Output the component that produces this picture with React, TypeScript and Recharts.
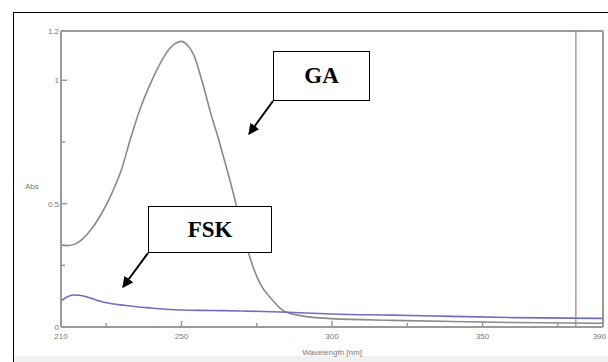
import { LineChart, Line, XAxis, YAxis, ReferenceLine } from 'recharts'

// UV spectra, absorbance vs wavelength (nm)
const gaWavelengths = [
  210, 212, 215, 217, 220, 223, 227, 230, 233, 236, 240, 243, 246, 248, 250,
  252, 254, 257, 260, 262, 264, 266, 268, 270, 271, 273, 276, 280, 284, 290,
  300, 320, 340, 360, 390,
]
const gaAbs = [
  0.333, 0.33, 0.338, 0.355, 0.395, 0.45, 0.545, 0.635, 0.76, 0.875, 0.995,
  1.07, 1.128, 1.15, 1.158, 1.142, 1.105, 0.99, 0.855, 0.775, 0.688, 0.6,
  0.504, 0.405, 0.36, 0.272, 0.179, 0.112, 0.065, 0.045, 0.034, 0.027, 0.022,
  0.018, 0.015,
]

const fskWavelengths = [
  210, 212, 214, 216, 220, 223, 227, 231, 235, 240, 245, 250, 260, 270, 283,
  300, 320, 340, 360, 390,
]
const fskAbs = [
  0.106, 0.122, 0.13, 0.129, 0.117, 0.104, 0.094, 0.088, 0.082, 0.077, 0.072,
  0.069, 0.067, 0.065, 0.061, 0.053, 0.048, 0.043, 0.038, 0.035,
]

const xTicks = [210, 225, 250, 275, 300, 325, 350, 375, 390]
const xLabels = [210, 250, 300, 350, 390]
const yTicks = [0, 0.25, 0.5, 0.75, 1, 1.2]
const yLabels = [0, 0.5, 1, 1.2]
const markerWavelength = 381

const gaData = gaWavelengths.map((wl, i) => ({ wl, abs: gaAbs[i] }))
const fskData = fskWavelengths.map((wl, i) => ({ wl, abs: fskAbs[i] }))

const AXIS = '#9a9a9a'
const TICK_FONT = {
  fontFamily: '"Liberation Sans Narrow", "Liberation Sans", Arial, sans-serif',
  fontSize: 8,
  fill: '#777',
}

function XTick(props: any) {
  const { x, y, payload } = props
  const major = xLabels.includes(payload.value)
  const last = payload.value === 390
  return (
    <g>
      <line x1={x} x2={x} y1={y} y2={y - (major ? 6 : 4)} stroke={AXIS} strokeWidth={1.5} />
      {major && (
        <text x={last ? x + 3 : x} y={y + 12} textAnchor={last ? 'end' : 'middle'} {...TICK_FONT}>
          {payload.value}
        </text>
      )}
    </g>
  )
}

function YTick(props: any) {
  const { x, y, payload } = props
  const major = yLabels.includes(payload.value)
  return (
    <g>
      <line x1={x} x2={x + (major ? 6 : 4)} y1={y} y2={y} stroke={AXIS} strokeWidth={1.5} />
      {major && (
        <text x={x - 2} y={y + 3} textAnchor="end" {...TICK_FONT}>
          {payload.value}
        </text>
      )}
    </g>
  )
}

const boxStyle = {
  position: 'absolute' as const,
  border: '1.5px solid #000',
  background: '#fff',
  display: 'flex',
  alignItems: 'center',
  justifyContent: 'center',
  fontFamily: '"Liberation Serif", "Times New Roman", serif',
  fontWeight: 700,
  fontSize: 23,
  color: '#000',
  boxSizing: 'border-box' as const,
}

export default function App() {
  return (
    <div
      style={{
        position: 'absolute',
        left: 0,
        top: 0,
        width: 608,
        height: 362,
        background: '#fff',
        overflow: 'hidden',
      }}
    >
      <div
        style={{
          position: 'absolute',
          left: 13,
          top: 12,
          width: 620,
          height: 400,
          borderLeft: '1.5px solid #000',
          borderTop: '1.5px solid #000',
        }}
      />
      <div
        style={{
          position: 'absolute',
          left: 15,
          top: 356,
          width: 600,
          height: 10,
          background: '#f1f1f1',
        }}
      />
      <div style={{ position: 'absolute', left: 0, top: 0 }}>
        <LineChart
          width={608}
          height={362}
          margin={{ top: 31, right: 5, bottom: 5, left: 11 }}
        >
          <XAxis
            dataKey="wl"
            type="number"
            domain={[210, 390]}
            ticks={xTicks}
            interval={0}
            allowDuplicatedCategory={false}
            height={30}
            tickSize={0}
            tickMargin={0}
            tickLine={false}
            tick={<XTick />}
            axisLine={{ stroke: AXIS, strokeWidth: 2 }}
            label={{
              value: 'Wavelength [nm]',
              position: 'insideBottom',
              offset: 2,
              style: { ...TICK_FONT, fontSize: 8 },
            }}
          />
          <YAxis
            type="number"
            domain={[0, 1.2]}
            ticks={yTicks}
            interval={0}
            width={50}
            tickSize={0}
            tickMargin={0}
            tickLine={false}
            tick={<YTick />}
            axisLine={{ stroke: AXIS, strokeWidth: 2 }}
            label={{
              value: 'Abs',
              position: 'insideLeft',
              offset: 14,
              dy: 7,
              style: { ...TICK_FONT, fontSize: 8 },
            }}
          />
          <ReferenceLine y={1.2} stroke={AXIS} strokeWidth={2} />
          <ReferenceLine x={390} stroke={AXIS} strokeWidth={2} />
          <ReferenceLine x={markerWavelength} stroke="#b85862" strokeWidth={1} />
          <Line
            data={gaData}
            dataKey="abs"
            type="monotone"
            stroke="#8a8a8a"
            strokeWidth={1.6}
            dot={false}
            isAnimationActive={false}
          />
          <Line
            data={fskData}
            dataKey="abs"
            type="monotone"
            stroke="#6f6fbf"
            strokeWidth={1.6}
            dot={false}
            isAnimationActive={false}
          />
        </LineChart>
      </div>

      <svg
        width={608}
        height={362}
        style={{ position: 'absolute', left: 0, top: 0, pointerEvents: 'none' }}
      >
        <defs>
          <marker
            id="arrow"
            viewBox="0 0 10 10"
            refX="9"
            refY="5"
            markerWidth="5.5"
            markerHeight="5.5"
            orient="auto"
          >
            <path d="M0,0 L10,5 L0,10 z" fill="#000" />
          </marker>
        </defs>
        <line x1={273} y1={101} x2={249} y2={134} stroke="#000" strokeWidth={2} markerEnd="url(#arrow)" />
        <line x1={148} y1={253} x2={123} y2={287} stroke="#000" strokeWidth={2} markerEnd="url(#arrow)" />
      </svg>

      <div style={{ ...boxStyle, left: 273, top: 51, width: 97, height: 50 }}>GA</div>
      <div style={{ ...boxStyle, left: 148, top: 206, width: 124, height: 47 }}>FSK</div>
    </div>
  )
}
